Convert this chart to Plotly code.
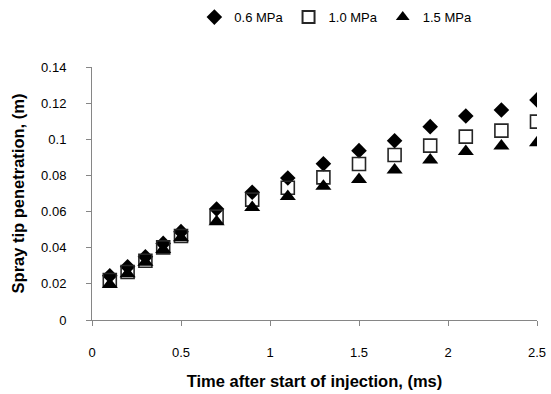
import plotly.graph_objects as go

time_ms = [0.1, 0.2, 0.3, 0.4, 0.5, 0.7, 0.9, 1.1, 1.3, 1.5, 1.7, 1.9, 2.1, 2.3, 2.5]
p06 = [0.0245, 0.0295, 0.035, 0.0424, 0.0489, 0.0614, 0.0707, 0.0786, 0.0865, 0.0937, 0.0992, 0.1070, 0.1129, 0.1162, 0.1218]
p10 = [0.0221, 0.0266, 0.0328, 0.0402, 0.0465, 0.0572, 0.0666, 0.0732, 0.0789, 0.0863, 0.0913, 0.0965, 0.1015, 0.1048, 0.1098]
p15 = [0.0197, 0.0256, 0.0320, 0.0390, 0.0455, 0.0544, 0.0623, 0.0683, 0.0740, 0.0778, 0.0830, 0.0885, 0.0932, 0.0963, 0.0981]

y_ticks = [0, 0.02, 0.04, 0.06, 0.08, 0.1, 0.12, 0.14]
y_ticktext = ["0", "0.02", "0.04", "0.06", "0.08", "0.1", "0.12", "0.14"]
x_ticks = [0, 0.5, 1, 1.5, 2, 2.5]
x_ticktext = ["0", "0.5", "1", "1.5", "2", "2.5"]

font_family = "Liberation Sans, Arial, sans-serif"

fig = go.Figure()
fig.add_trace(go.Scatter(x=time_ms, y=p06, mode="markers", name="0.6 MPa",
                         marker=dict(symbol="diamond", size=12, color="black", line=dict(width=0))))
fig.add_trace(go.Scatter(x=time_ms, y=p10, mode="markers", name="1.0 MPa",
                         marker=dict(symbol="square-open", size=13, color="#262626", line=dict(width=1.6))))
fig.add_trace(go.Scatter(x=time_ms, y=p15, mode="markers", name="1.5 MPa",
                         marker=dict(symbol="triangle-up", size=14, color="black", line=dict(width=0))))

axis_common = dict(
    showline=True, linecolor="#868686", linewidth=1,
    ticks="outside", tickcolor="#868686", ticklen=5, tickwidth=1,
    showgrid=False, zeroline=False, automargin=False,
    tickfont=dict(family=font_family, size=13, color="black"),
)

fig.update_layout(
    width=551, height=394,
    margin=dict(l=92, r=14, t=67, b=74, autoexpand=False),
    paper_bgcolor="white", plot_bgcolor="white",
    font=dict(family=font_family, size=13, color="black"),
    showlegend=True,
    legend=dict(orientation="h", x=0.548, xanchor="center", xref="paper",
                y=1.197, yanchor="middle", yref="paper",
                font=dict(family=font_family, size=13, color="black"),
                itemwidth=30, itemsizing="constant", tracegroupgap=0,
                bgcolor="rgba(0,0,0,0)"),
    xaxis=dict(range=[0, 2.5], tickvals=x_ticks, ticktext=x_ticktext,
               ticklabelstandoff=15,
               title=dict(text="<b>Time after start of injection, (ms)</b>",
                          font=dict(family=font_family, size=16.5, color="black"), standoff=16),
               **axis_common),
    yaxis=dict(range=[0, 0.14], tickvals=y_ticks, ticktext=y_ticktext,
               ticklabelstandoff=17,
               title=dict(text="<b>Spray tip penetration, (m)</b>",
                          font=dict(family=font_family, size=16.5, color="black"), standoff=12),
               **axis_common),
)

fig.write_html("out.html")
